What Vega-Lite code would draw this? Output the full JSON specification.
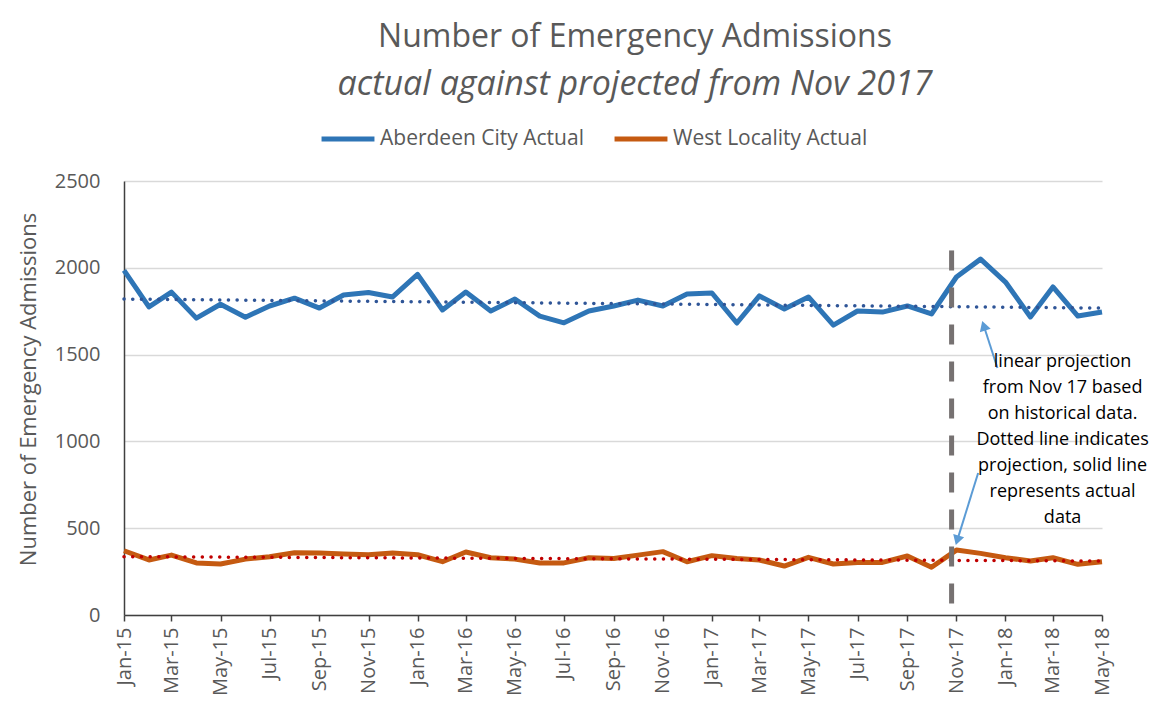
{
  "$schema": "https://vega.github.io/schema/vega-lite/v6.json",
  "width": 978,
  "height": 434,
  "autosize": {"type": "none"},
  "padding": {"left": 124, "top": 181, "right": 64, "bottom": 90},
  "background": "white",
  "title": {
    "text": "Number of Emergency Admissions",
    "subtitle": "actual against projected from Nov 2017",
    "anchor": "middle",
    "frame": "group",
    "fontSize": 32,
    "fontWeight": "normal",
    "color": "#595959",
    "subtitleFontSize": 34,
    "subtitleFontStyle": "italic",
    "subtitleColor": "#595959",
    "subtitlePadding": 14,
    "offset": 7,
    "dx": 22
  },
  "config": {"font": "Open Sans", "view": {"stroke": null}},
  "datasets": {
    "actual": [
      {"series": "Aberdeen City Actual", "month": "2015-01-01", "value": 1985},
      {"series": "Aberdeen City Actual", "month": "2015-02-01", "value": 1775},
      {"series": "Aberdeen City Actual", "month": "2015-03-01", "value": 1860},
      {"series": "Aberdeen City Actual", "month": "2015-04-01", "value": 1710},
      {"series": "Aberdeen City Actual", "month": "2015-05-01", "value": 1790},
      {"series": "Aberdeen City Actual", "month": "2015-06-01", "value": 1715},
      {"series": "Aberdeen City Actual", "month": "2015-07-01", "value": 1780},
      {"series": "Aberdeen City Actual", "month": "2015-08-01", "value": 1825},
      {"series": "Aberdeen City Actual", "month": "2015-09-01", "value": 1768},
      {"series": "Aberdeen City Actual", "month": "2015-10-01", "value": 1843},
      {"series": "Aberdeen City Actual", "month": "2015-11-01", "value": 1858},
      {"series": "Aberdeen City Actual", "month": "2015-12-01", "value": 1832},
      {"series": "Aberdeen City Actual", "month": "2016-01-01", "value": 1962},
      {"series": "Aberdeen City Actual", "month": "2016-02-01", "value": 1757},
      {"series": "Aberdeen City Actual", "month": "2016-03-01", "value": 1860},
      {"series": "Aberdeen City Actual", "month": "2016-04-01", "value": 1751},
      {"series": "Aberdeen City Actual", "month": "2016-05-01", "value": 1820},
      {"series": "Aberdeen City Actual", "month": "2016-06-01", "value": 1722},
      {"series": "Aberdeen City Actual", "month": "2016-07-01", "value": 1683},
      {"series": "Aberdeen City Actual", "month": "2016-08-01", "value": 1751},
      {"series": "Aberdeen City Actual", "month": "2016-09-01", "value": 1780},
      {"series": "Aberdeen City Actual", "month": "2016-10-01", "value": 1814},
      {"series": "Aberdeen City Actual", "month": "2016-11-01", "value": 1780},
      {"series": "Aberdeen City Actual", "month": "2016-12-01", "value": 1849},
      {"series": "Aberdeen City Actual", "month": "2017-01-01", "value": 1855},
      {"series": "Aberdeen City Actual", "month": "2017-02-01", "value": 1682},
      {"series": "Aberdeen City Actual", "month": "2017-03-01", "value": 1838},
      {"series": "Aberdeen City Actual", "month": "2017-04-01", "value": 1763},
      {"series": "Aberdeen City Actual", "month": "2017-05-01", "value": 1832},
      {"series": "Aberdeen City Actual", "month": "2017-06-01", "value": 1670},
      {"series": "Aberdeen City Actual", "month": "2017-07-01", "value": 1751},
      {"series": "Aberdeen City Actual", "month": "2017-08-01", "value": 1745},
      {"series": "Aberdeen City Actual", "month": "2017-09-01", "value": 1780},
      {"series": "Aberdeen City Actual", "month": "2017-10-01", "value": 1734},
      {"series": "Aberdeen City Actual", "month": "2017-11-01", "value": 1947},
      {"series": "Aberdeen City Actual", "month": "2017-12-01", "value": 2050},
      {"series": "Aberdeen City Actual", "month": "2018-01-01", "value": 1918},
      {"series": "Aberdeen City Actual", "month": "2018-02-01", "value": 1717},
      {"series": "Aberdeen City Actual", "month": "2018-03-01", "value": 1890},
      {"series": "Aberdeen City Actual", "month": "2018-04-01", "value": 1722},
      {"series": "Aberdeen City Actual", "month": "2018-05-01", "value": 1745},
      {"series": "West Locality Actual", "month": "2015-01-01", "value": 370},
      {"series": "West Locality Actual", "month": "2015-02-01", "value": 317},
      {"series": "West Locality Actual", "month": "2015-03-01", "value": 345},
      {"series": "West Locality Actual", "month": "2015-04-01", "value": 300},
      {"series": "West Locality Actual", "month": "2015-05-01", "value": 294},
      {"series": "West Locality Actual", "month": "2015-06-01", "value": 322},
      {"series": "West Locality Actual", "month": "2015-07-01", "value": 336},
      {"series": "West Locality Actual", "month": "2015-08-01", "value": 359},
      {"series": "West Locality Actual", "month": "2015-09-01", "value": 357},
      {"series": "West Locality Actual", "month": "2015-10-01", "value": 351},
      {"series": "West Locality Actual", "month": "2015-11-01", "value": 347},
      {"series": "West Locality Actual", "month": "2015-12-01", "value": 357},
      {"series": "West Locality Actual", "month": "2016-01-01", "value": 347},
      {"series": "West Locality Actual", "month": "2016-02-01", "value": 307},
      {"series": "West Locality Actual", "month": "2016-03-01", "value": 363},
      {"series": "West Locality Actual", "month": "2016-04-01", "value": 330},
      {"series": "West Locality Actual", "month": "2016-05-01", "value": 322},
      {"series": "West Locality Actual", "month": "2016-06-01", "value": 300},
      {"series": "West Locality Actual", "month": "2016-07-01", "value": 300},
      {"series": "West Locality Actual", "month": "2016-08-01", "value": 330},
      {"series": "West Locality Actual", "month": "2016-09-01", "value": 326},
      {"series": "West Locality Actual", "month": "2016-10-01", "value": 345},
      {"series": "West Locality Actual", "month": "2016-11-01", "value": 365},
      {"series": "West Locality Actual", "month": "2016-12-01", "value": 307},
      {"series": "West Locality Actual", "month": "2017-01-01", "value": 342},
      {"series": "West Locality Actual", "month": "2017-02-01", "value": 326},
      {"series": "West Locality Actual", "month": "2017-03-01", "value": 317},
      {"series": "West Locality Actual", "month": "2017-04-01", "value": 282},
      {"series": "West Locality Actual", "month": "2017-05-01", "value": 332},
      {"series": "West Locality Actual", "month": "2017-06-01", "value": 294},
      {"series": "West Locality Actual", "month": "2017-07-01", "value": 303},
      {"series": "West Locality Actual", "month": "2017-08-01", "value": 303},
      {"series": "West Locality Actual", "month": "2017-09-01", "value": 340},
      {"series": "West Locality Actual", "month": "2017-10-01", "value": 275},
      {"series": "West Locality Actual", "month": "2017-11-01", "value": 374},
      {"series": "West Locality Actual", "month": "2017-12-01", "value": 355},
      {"series": "West Locality Actual", "month": "2018-01-01", "value": 330},
      {"series": "West Locality Actual", "month": "2018-02-01", "value": 311},
      {"series": "West Locality Actual", "month": "2018-03-01", "value": 330},
      {"series": "West Locality Actual", "month": "2018-04-01", "value": 292},
      {"series": "West Locality Actual", "month": "2018-05-01", "value": 307}
    ],
    "trend": [
      {"series": "Aberdeen City", "month": "2015-01-01", "value": 1820},
      {"series": "Aberdeen City", "month": "2018-05-01", "value": 1768},
      {"series": "West Locality", "month": "2015-01-01", "value": 336},
      {"series": "West Locality", "month": "2018-05-01", "value": 311}
    ]
  },
  "layer": [
    {
      "data": {"name": "actual"},
      "mark": {"type": "line", "strokeWidth": 5, "strokeJoin": "round"},
      "encoding": {
        "x": {
          "field": "month",
          "type": "temporal",
          "scale": {
            "type": "utc",
            "domain": [
              {"year": 2015, "month": 1, "date": 1, "utc": true},
              {"year": 2018, "month": 5, "date": 1, "utc": true}
            ]
          },
          "axis": {
            "title": null,
            "labelExpr": "utcFormat(datum.value, '%b-%y')",
            "values": [
              {"year": 2015, "month": 1, "date": 1, "utc": true},
              {"year": 2015, "month": 3, "date": 1, "utc": true},
              {"year": 2015, "month": 5, "date": 1, "utc": true},
              {"year": 2015, "month": 7, "date": 1, "utc": true},
              {"year": 2015, "month": 9, "date": 1, "utc": true},
              {"year": 2015, "month": 11, "date": 1, "utc": true},
              {"year": 2016, "month": 1, "date": 1, "utc": true},
              {"year": 2016, "month": 3, "date": 1, "utc": true},
              {"year": 2016, "month": 5, "date": 1, "utc": true},
              {"year": 2016, "month": 7, "date": 1, "utc": true},
              {"year": 2016, "month": 9, "date": 1, "utc": true},
              {"year": 2016, "month": 11, "date": 1, "utc": true},
              {"year": 2017, "month": 1, "date": 1, "utc": true},
              {"year": 2017, "month": 3, "date": 1, "utc": true},
              {"year": 2017, "month": 5, "date": 1, "utc": true},
              {"year": 2017, "month": 7, "date": 1, "utc": true},
              {"year": 2017, "month": 9, "date": 1, "utc": true},
              {"year": 2017, "month": 11, "date": 1, "utc": true},
              {"year": 2018, "month": 1, "date": 1, "utc": true},
              {"year": 2018, "month": 3, "date": 1, "utc": true},
              {"year": 2018, "month": 5, "date": 1, "utc": true}
            ],
            "labelAngle": -90,
            "labelAlign": "right",
            "labelBaseline": "middle",
            "labelFontSize": 20,
            "labelColor": "#595959",
            "labelPadding": 6,
            "labelOverlap": false,
            "labelFlush": false,
            "tickSize": 6,
            "tickColor": "#404040",
            "tickWidth": 1.5,
            "domainColor": "#404040",
            "domainWidth": 1.5,
            "grid": false
          }
        },
        "y": {
          "field": "value",
          "type": "quantitative",
          "scale": {"domain": [0, 2500], "nice": false},
          "axis": {
            "title": "Number of Emergency Admissions",
            "values": [0, 500, 1000, 1500, 2000, 2500],
            "format": "d",
            "grid": true,
            "gridColor": "#D9D9D9",
            "gridWidth": 1.3,
            "ticks": false,
            "tickSize": 0,
            "labelPadding": 24,
            "labelFontSize": 20,
            "labelColor": "#595959",
            "domainColor": "#404040",
            "domainWidth": 1.5,
            "titleFontSize": 22,
            "titleFontWeight": "normal",
            "titleColor": "#595959",
            "titleX": -96,
            "titleY": 208,
            "titleAngle": -90,
            "titleAlign": "center",
            "titleBaseline": "middle"
          }
        },
        "color": {
          "field": "series",
          "type": "nominal",
          "scale": {
            "domain": ["Aberdeen City Actual", "West Locality Actual"],
            "range": ["#2E75B6", "#C55A11"]
          },
          "legend": {
            "orient": "none",
            "legendX": 195,
            "legendY": -71,
            "direction": "horizontal",
            "title": null,
            "symbolType": "stroke",
            "symbolSize": 2800,
            "symbolStrokeWidth": 5,
            "labelFontSize": 21,
            "labelLimit": 400,
            "labelColor": "#595959",
            "labelOffset": 3,
            "columnPadding": 20
          }
        }
      }
    },
    {
      "data": {"name": "trend"},
      "transform": [{"filter": "datum.series === 'Aberdeen City'"}],
      "mark": {"type": "line", "color": "#2F5597", "strokeWidth": 3.5, "strokeDash": [0.1, 8.6], "strokeCap": "round"},
      "encoding": {
        "x": {"field": "month", "type": "temporal"},
        "y": {"field": "value", "type": "quantitative"}
      }
    },
    {
      "data": {"name": "trend"},
      "transform": [{"filter": "datum.series === 'West Locality'"}],
      "mark": {"type": "line", "color": "#C00000", "strokeWidth": 3.5, "strokeDash": [0.1, 8.6], "strokeCap": "round"},
      "encoding": {
        "x": {"field": "month", "type": "temporal"},
        "y": {"field": "value", "type": "quantitative"}
      }
    },
    {
      "data": {"values": [{}]},
      "mark": {"type": "rule", "color": "#767171", "strokeWidth": 5, "strokeDash": [20, 17]},
      "encoding": {
        "x": {"datum": {"year": 2017, "month": 10, "date": 26, "utc": true}, "type": "temporal"},
        "y": {"datum": 2100, "type": "quantitative"},
        "y2": {"datum": 0}
      }
    },
    {
      "data": {"values": [{}]},
      "mark": {"type": "rule", "color": "#5B9BD5", "strokeWidth": 2},
      "encoding": {
        "x": {"datum": {"year": 2017, "month": 12, "date": 22, "utc": true}, "type": "temporal"},
        "x2": {"datum": {"year": 2017, "month": 12, "date": 5, "utc": true}},
        "y": {"datum": 1423, "type": "quantitative"},
        "y2": {"datum": 1666}
      }
    },
    {
      "data": {"values": [{}]},
      "mark": {"type": "point", "shape": "triangle-up", "filled": true, "opacity": 1, "size": 130, "angle": 342, "color": "#5B9BD5"},
      "encoding": {
        "x": {"datum": {"year": 2017, "month": 12, "date": 5, "utc": true}, "type": "temporal"},
        "y": {"datum": 1666, "type": "quantitative"}
      }
    },
    {
      "data": {"values": [{}]},
      "mark": {"type": "rule", "color": "#5B9BD5", "strokeWidth": 2},
      "encoding": {
        "x": {"datum": {"year": 2017, "month": 11, "date": 28, "utc": true}, "type": "temporal"},
        "x2": {"datum": {"year": 2017, "month": 11, "date": 2, "utc": true}},
        "y": {"datum": 818, "type": "quantitative"},
        "y2": {"datum": 430}
      }
    },
    {
      "data": {"values": [{}]},
      "mark": {"type": "point", "shape": "triangle-up", "filled": true, "opacity": 1, "size": 130, "angle": 197, "color": "#5B9BD5"},
      "encoding": {
        "x": {"datum": {"year": 2017, "month": 11, "date": 2, "utc": true}, "type": "temporal"},
        "y": {"datum": 430, "type": "quantitative"}
      }
    },
    {
      "data": {"values": [{}]},
      "mark": {
        "type": "text",
        "text": ["linear projection", "from Nov 17 based", "on historical data.", "Dotted line indicates", "projection, solid line", "represents actual", "data"],
        "fontSize": 18,
        "lineHeight": 26,
        "align": "center",
        "baseline": "top",
        "color": "#000000"
      },
      "encoding": {
        "x": {"datum": {"year": 2018, "month": 3, "date": 13, "utc": true}, "type": "temporal"},
        "y": {"datum": 1507, "type": "quantitative"}
      }
    }
  ]
}
